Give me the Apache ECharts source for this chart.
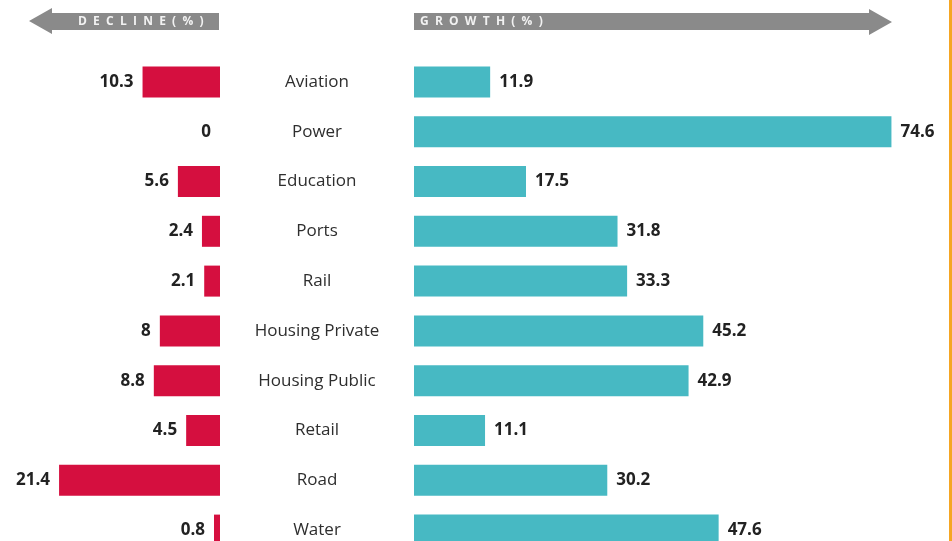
<!DOCTYPE html>
<html lang="en">
<head>
    <meta charset="UTF-8">
    <title>Decline vs Growth by sector</title>
    <script src="https://cdn.jsdelivr.net/npm/echarts@6/dist/echarts.min.js"></script>
    <style>
        html, body { margin: 0; padding: 0; background: #ffffff; }
        #chart { width: 952px; height: 541px; }
    </style>
</head>
<body>
    <div id="chart"></div>
    <script>
        // sectors, top to bottom
        const sectors = ['Aviation', 'Power', 'Education', 'Ports', 'Rail', 'Housing Private',
            'Housing Public', 'Retail', 'Road', 'Water'];
        const decline = [10.3, 0, 5.6, 2.4, 2.1, 8, 8.8, 4.5, 21.4, 0.8];
        const growth = [11.9, 74.6, 17.5, 31.8, 33.3, 45.2, 42.9, 11.1, 30.2, 47.6];

        const RED = '#d50f3f';
        const TEAL = '#47b9c3';
        const GREY = '#8a8a8a';
        const font = '"Open Sans", Lato, sans-serif';

        const chart = echarts.init(document.getElementById('chart'));

        const valueLabel = {
            show: true,
            fontFamily: font,
            fontWeight: 'bold',
            fontSize: 17,
            color: '#222',
            distance: 9
        };

        chart.setOption({
            animation: false,
            grid: [
                { left: 32, width: 188, top: 57, height: 498, outerBoundsMode: 'none' },
                { left: 414, width: 512, top: 57, height: 498, outerBoundsMode: 'none' }
            ],
            xAxis: [
                { gridIndex: 0, type: 'value', min: 0, max: 25, inverse: true, show: false },
                { gridIndex: 1, type: 'value', min: 0, max: 80, show: false }
            ],
            yAxis: [
                { gridIndex: 0, type: 'category', data: sectors, inverse: true, show: false },
                {
                    gridIndex: 1, type: 'category', data: sectors, inverse: true,
                    axisLine: { show: false }, axisTick: { show: false },
                    axisLabel: {
                        margin: 97, align: 'center',
                        fontFamily: font, fontSize: 17, color: '#2e2e2e'
                    }
                }
            ],
            series: [
                {
                    type: 'bar', xAxisIndex: 0, yAxisIndex: 0,
                    data: decline, barWidth: 31,
                    itemStyle: { color: RED },
                    label: Object.assign({ position: 'left' }, valueLabel)
                },
                {
                    type: 'bar', xAxisIndex: 1, yAxisIndex: 1,
                    data: growth, barWidth: 31,
                    itemStyle: { color: TEAL },
                    label: Object.assign({ position: 'right' }, valueLabel)
                }
            ],
            graphic: [
                // decline arrow
                {
                    type: 'polygon',
                    shape: { points: [[29, 21], [52, 8], [52, 13], [219, 13], [219, 30], [52, 30], [52, 34]] },
                    style: { fill: GREY }
                },
                {
                    type: 'text', left: 78, top: 16,
                    style: {
                        text: 'D  E  C  L  I  N  E  (  %  )', fill: '#f2f2f2',
                        font: 'bold 12px ' + font
                    }
                },
                // growth arrow
                {
                    type: 'polygon',
                    shape: { points: [[414, 13], [869, 13], [869, 9], [892, 22], [869, 35], [869, 30], [414, 30]] },
                    style: { fill: GREY }
                },
                {
                    type: 'text', left: 420, top: 16,
                    style: {
                        text: 'G  R  O  W  T  H  (  %  )', fill: '#f2f2f2',
                        font: 'bold 12px ' + font
                    }
                },
                // orange edge on the right
                {
                    type: 'rect',
                    shape: { x: 949, y: 0, width: 3, height: 541 },
                    style: { fill: '#f5a623' }
                }
            ]
        });
    </script>
</body>
</html>
